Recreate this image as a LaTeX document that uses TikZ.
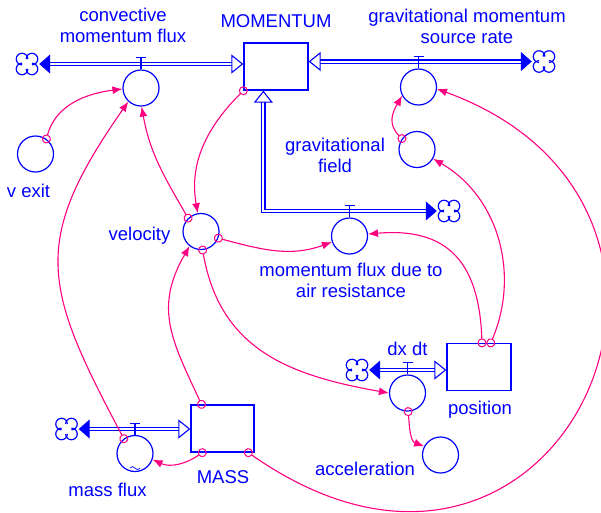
\documentclass[tikz,border=0pt]{standalone}
\usepackage{fontspec}
\setmainfont{Liberation Sans}
\usetikzlibrary{arrows.meta, calc}
\definecolor{flowblue}{RGB}{0,0,255}
\definecolor{linkpink}{RGB}{255,0,128}

\begin{document}
\begin{tikzpicture}[x=1pt, y=1pt,
  stockbox/.style={draw=flowblue, line width=1.3pt, minimum width=64pt, minimum height=47pt, inner sep=0pt},
  auxvar/.style={circle, draw=flowblue, line width=1.2pt, minimum size=36pt, inner sep=0pt},
  cloudnode/.style={circle, minimum size=24pt, inner sep=0pt},
  cloud/.pic={\foreach \a in {45,135,225,315}
      \draw[flowblue, line width=1.2pt] (\a:7) ++(\a+135:5.8) arc[start angle=\a+135, delta angle=-270, radius=5.8];},
  flowpipe/.style={draw=flowblue, double=white, double distance=2pt, line width=1.2pt,
      {Triangle[length=11pt, width=19pt, line width=1pt]}-{Triangle[open, length=12pt, width=19pt, line width=1.1pt]}},
  link/.style={draw=linkpink, line width=1.1pt, shorten <=-4.5pt,
      {Circle[open, length=9pt, width=9pt, line width=1pt]}-{Latex[length=10pt, width=8pt]}},
  lbl/.style={text=flowblue, inner sep=0pt, font=\fontsize{18.5}{21}\selectfont},
  lbltwo/.style={lbl, align=center}]
  \useasboundingbox (0,0) rectangle (601,-512);

  % stocks
  \node[stockbox] (momentum) at (276,-66.5) {};
  \node[stockbox] (position) at (479,-367) {};
  \node[stockbox, minimum width=63pt] (mass) at (222.5,-428.5) {};

  % flows and auxiliaries
  \node[auxvar] (convflux) at (141,-88) {};
  \node[auxvar] (gravrate) at (418.5,-87) {};
  \node[auxvar] (gravfield) at (417,-149.5) {};
  \node[auxvar] (vexit) at (35.5,-154) {};
  \node[auxvar] (velocity) at (201,-231.5) {};
  \node[auxvar] (airflux) at (349.5,-236) {};
  \node[auxvar] (dxdt) at (407.5,-393) {};
  \node[auxvar] (accel) at (440.5,-455) {};
  \node[auxvar] (massflux) at (135,-453.5) {};

  % clouds
  \foreach \n/\x/\y in {convcloud/27/-64, gravcloud/544/-61.5, aircloud/449/-211, dxcloud/357/-370, mfcloud/66.5/-429}{
    \node[cloudnode] (\n) at (\x,\y) {};
    \pic at (\x,\y) {cloud};
  }

  % pipes
  \draw[flowpipe] (convcloud) -- (convcloud -| momentum.west);
  \draw[flowpipe] (gravcloud) -- (gravcloud -| momentum.east);
  \draw[flowpipe] (aircloud) -| ($(momentum.south west)+(20,0)$);
  \draw[flowpipe] (dxcloud) -- (dxcloud -| position.west);
  \draw[flowpipe] (mfcloud) -- (mfcloud -| mass.west);

  % valve handles
  \foreach \v in {convflux, gravrate, airflux, dxdt, massflux}
    \draw[flowblue, line width=1.1pt] (\v.north) -- ++(0,11.5) ++(-5,0) -- ++(10,0);
  \draw[flowblue, line width=0.7pt] ($(massflux.south)+(-5,4)$) sin ++(2.5,1.5) cos ++(2.5,-1.5) sin ++(2.5,-1.5) cos ++(2.5,1.5);

  % labels
  \node[lbl, anchor=base] (momentumlbl) at (276,-27) {MOMENTUM};
  \node[lbltwo] (convlbl) at (123,-25.4) {convective\\momentum flux};
  \node[lbltwo] (gravratelbl) at (467,-25.9) {gravitational momentum\\source rate};
  \node[lbltwo] (gravfieldlbl) at (335,-154.9) {gravitational\\field};
  \node[lbltwo] (airlbl) at (351,-280.4) {momentum flux due to\\air resistance};
  \node[lbl, anchor=base] (vexitlbl) at (28.5,-197) {v exit};
  \node[lbl, anchor=base] (velocitylbl) at (139.5,-240) {velocity};
  \node[lbl, anchor=base] (dxdtlbl) at (407.5,-355) {dx dt};
  \node[lbl, anchor=base] (positionlbl) at (480,-414) {position};
  \node[lbl, anchor=base] (accellbl) at (365,-475) {acceleration};
  \node[lbl, anchor=base] (masslbl) at (223,-483) {MASS};
  \node[lbl, anchor=base] (massfluxlbl) at (107.5,-496) {mass flux};

  % causal links
  \draw[link] (vexit.54) to[out=75, in=187] (convflux.183);
  \draw[link] (massflux.127) to[out=118, in=235, looseness=1.3] (convflux.227);
  \draw[link] (velocity.134) to[out=120, in=-80] (convflux.272);
  \draw[link] (momentum.south west) to[out=225, in=100] (velocity.100);
  \draw[link] (velocity.-21) to[out=-15, in=200] (airflux.199);
  \draw[link] (velocity.275) to[out=-80, in=170, looseness=1.1] (dxdt.180);
  \draw[link] (mass.131) to[out=115, in=240, looseness=1.15] (velocity.232);
  \draw[link] (mass.230) to[out=215, in=-25] (massflux.-19);
  \draw[link] (mass.-43) to[out=-35, in=-20, out looseness=2.38, in looseness=2.19] (gravrate.-6);
  \draw[link] (position.83) to[out=92, in=5, looseness=1.3] (airflux.6);
  \draw[link] (position.64) to[out=67, in=-30] (gravfield.-30);
  \draw[link] (gravfield.144) to[out=135, in=240, looseness=1.2] (gravrate.208);
  \draw[link] (dxdt.-88) to[out=-85, in=160] (accel.152);
\end{tikzpicture}
\end{document}
